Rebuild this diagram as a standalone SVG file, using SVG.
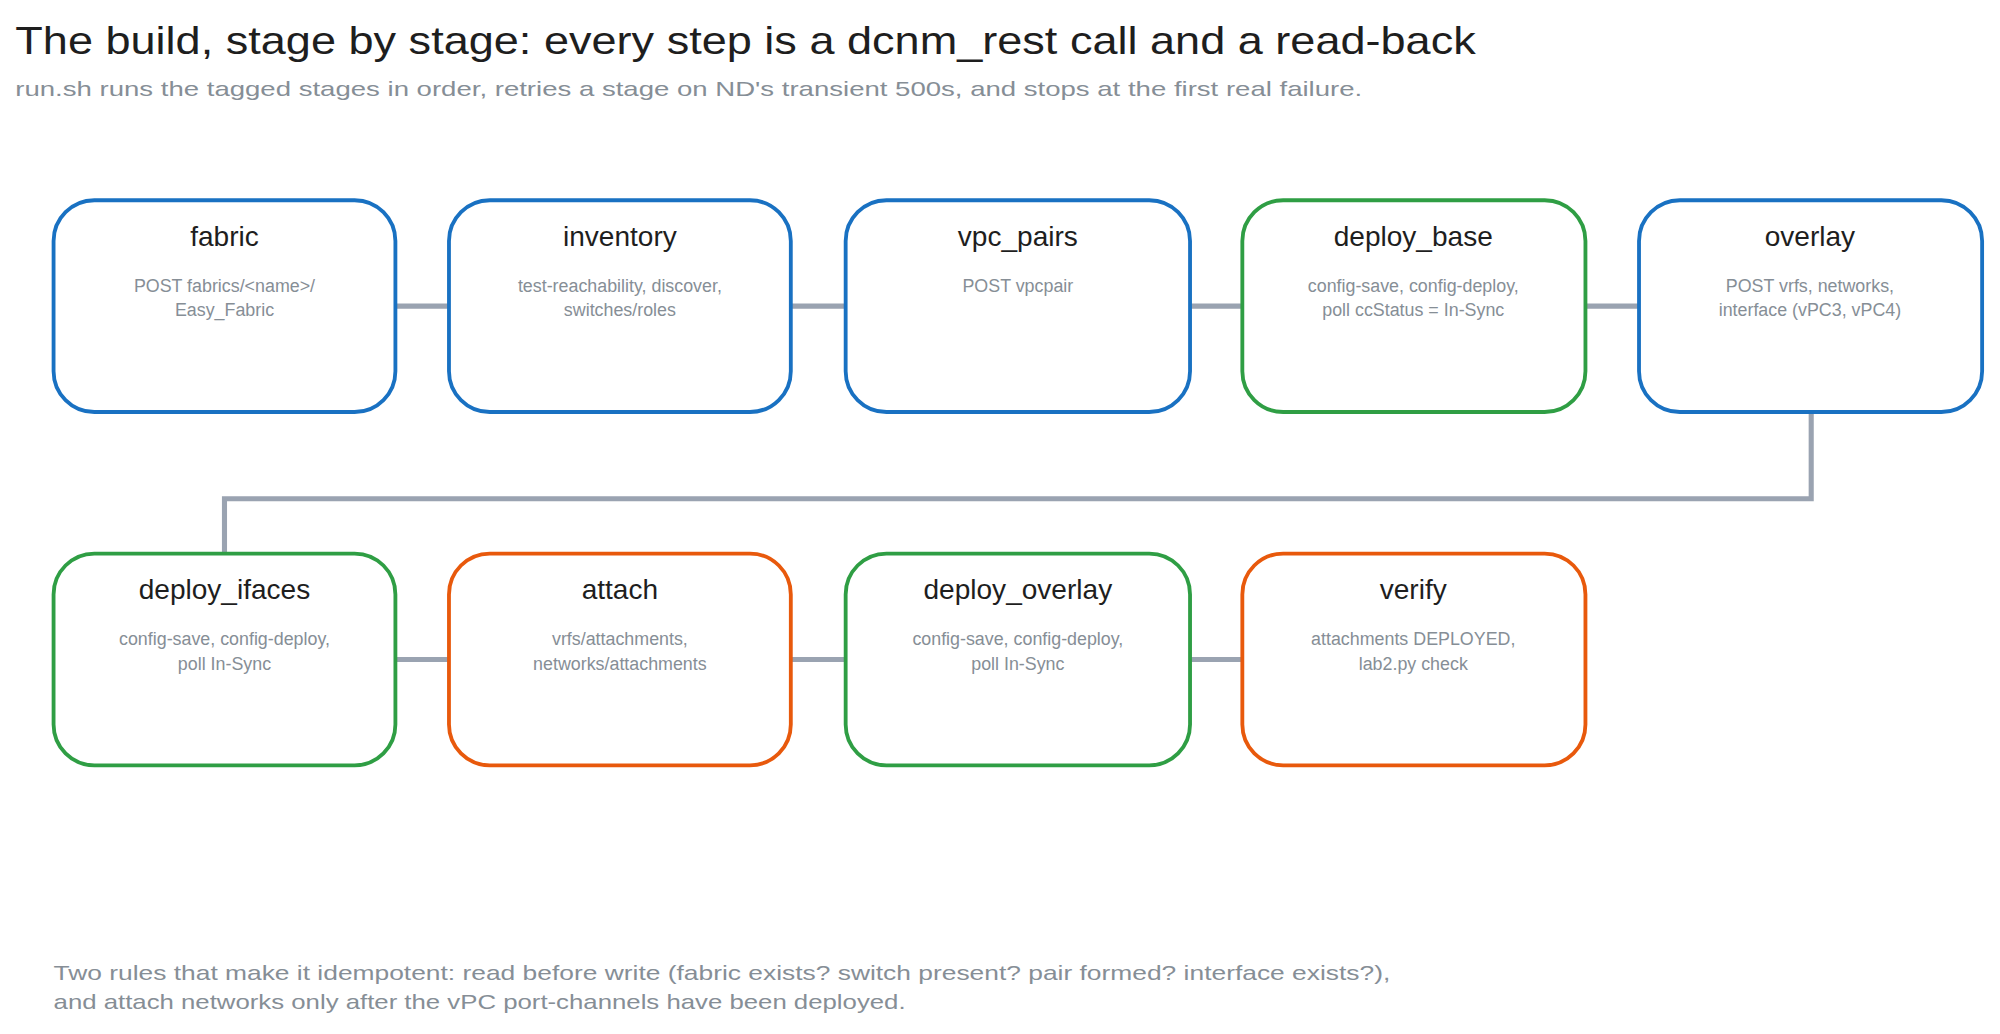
<svg xmlns="http://www.w3.org/2000/svg" width="2000" height="1034" viewBox="0 0 2000 1034">
<style>
.n{fill:#fff;stroke-width:3}
.b{stroke:#1971c2}.g{stroke:#2f9e44}.o{stroke:#e8590c}
.t{font-family:"Liberation Sans",sans-serif;font-size:22px;fill:#1e1e1e;text-anchor:middle}
.d{font-family:"Liberation Sans",sans-serif;font-size:14px;fill:#868e96;text-anchor:middle}
.c{stroke:#9aa3b1;stroke-width:4;fill:none}
.s{font-family:"Liberation Sans",sans-serif;font-size:16px;fill:#868e96}
</style>
<rect width="2000" height="1034" fill="#fff"/>
<g transform="scale(1.2755)">
<text x="12" y="42" textLength="1145" lengthAdjust="spacingAndGlyphs" style="font-family:'Liberation Sans',sans-serif;font-size:30px;fill:#1e1e1e">The build, stage by stage: every step is a dcnm_rest call and a read-back</text>
<text x="12" y="75" class="s" textLength="1056" lengthAdjust="spacingAndGlyphs">run.sh runs the tagged stages in order, retries a stage on ND's transient 500s, and stops at the first real failure.</text>
<g id="connectors">
<path class="c" d="M310 240H352M620 240H663M933 240H974M1243 240H1285"/>
<path class="c" d="M310 517H352M620 517H663M933 517H974"/>
<path class="c" d="M1420 320V391H176V434" stroke-width="3"/>
</g>
<g id="fabric"><rect class="n b" x="42" y="157" width="268" height="166" rx="32"/><text class="t" x="176" y="193">fabric</text><text class="d" x="176" y="229">POST fabrics/&lt;name&gt;/</text><text class="d" x="176" y="248">Easy_Fabric</text></g>
<g id="inventory"><rect class="n b" x="352" y="157" width="268" height="166" rx="32"/><text class="t" x="486" y="193">inventory</text><text class="d" x="486" y="229">test-reachability, discover,</text><text class="d" x="486" y="248">switches/roles</text></g>
<g id="vpc_pairs"><rect class="n b" x="663" y="157" width="270" height="166" rx="32"/><text class="t" x="798" y="193">vpc_pairs</text><text class="d" x="798" y="229">POST vpcpair</text></g>
<g id="deploy_base"><rect class="n g" x="974" y="157" width="269" height="166" rx="32"/><text class="t" x="1108" y="193">deploy_base</text><text class="d" x="1108" y="229">config-save, config-deploy,</text><text class="d" x="1108" y="248">poll ccStatus = In-Sync</text></g>
<g id="overlay"><rect class="n b" x="1285" y="157" width="269" height="166" rx="32"/><text class="t" x="1419" y="193">overlay</text><text class="d" x="1419" y="229">POST vrfs, networks,</text><text class="d" x="1419" y="248">interface (vPC3, vPC4)</text></g>
<g id="deploy_ifaces"><rect class="n g" x="42" y="434" width="268" height="166" rx="32"/><text class="t" x="176" y="470">deploy_ifaces</text><text class="d" x="176" y="506">config-save, config-deploy,</text><text class="d" x="176" y="525">poll In-Sync</text></g>
<g id="attach"><rect class="n o" x="352" y="434" width="268" height="166" rx="32"/><text class="t" x="486" y="470">attach</text><text class="d" x="486" y="506">vrfs/attachments,</text><text class="d" x="486" y="525">networks/attachments</text></g>
<g id="deploy_overlay"><rect class="n g" x="663" y="434" width="270" height="166" rx="32"/><text class="t" x="798" y="470">deploy_overlay</text><text class="d" x="798" y="506">config-save, config-deploy,</text><text class="d" x="798" y="525">poll In-Sync</text></g>
<g id="verify"><rect class="n o" x="974" y="434" width="269" height="166" rx="32"/><text class="t" x="1108" y="470">verify</text><text class="d" x="1108" y="506">attachments DEPLOYED,</text><text class="d" x="1108" y="525">lab2.py check</text></g>
<text x="42" y="768" class="s" textLength="1048" lengthAdjust="spacingAndGlyphs">Two rules that make it idempotent: read before write (fabric exists? switch present? pair formed? interface exists?),</text>
<text x="42" y="791" class="s" textLength="668" lengthAdjust="spacingAndGlyphs">and attach networks only after the vPC port-channels have been deployed.</text>
</g>
</svg>
